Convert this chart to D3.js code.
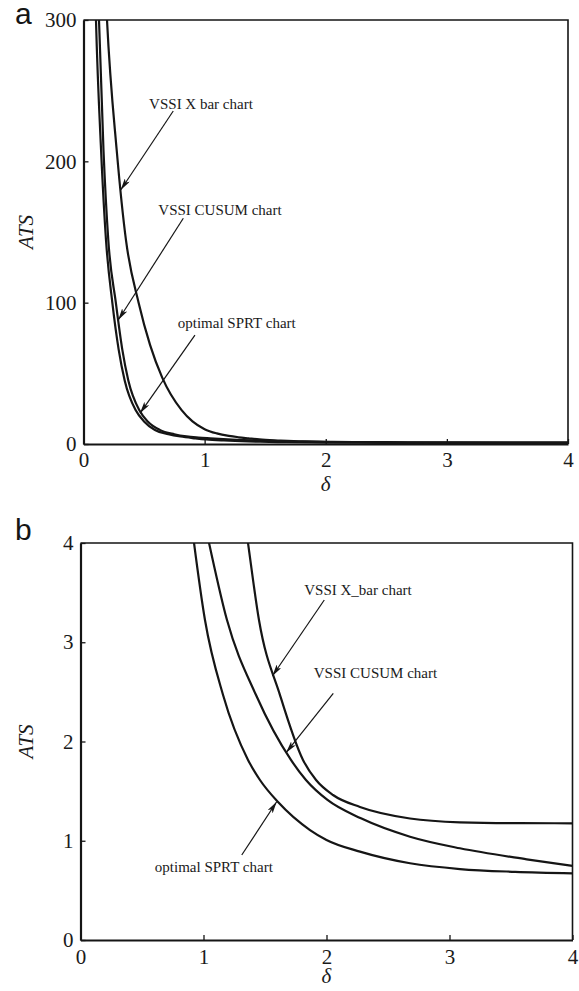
<!DOCTYPE html>
<html>
<head>
<meta charset="utf-8">
<script src="https://cdn.jsdelivr.net/npm/d3@7"></script>
<style>
  html, body { margin: 0; padding: 0; background: #fff; }
  svg { display: block; }
</style>
</head>
<body>
<svg id="chart" width="579" height="991"></svg>
<script>
// ---- data: ATS versus shift size delta for the three charts ----
const xTicks = [0, 1, 2, 3, 4];
const yTicksA = [0, 100, 200, 300];
const yTicksB = [0, 1, 2, 3, 4];

const sprtDelta = [0.09, 0.103, 0.145, 0.186, 0.238, 0.29, 0.34, 0.43, 0.50, 0.59, 0.70, 0.80,
  0.923, 1.012, 1.159, 1.362, 1.459, 1.606, 1.866, 2.0, 2.272, 2.679, 3.085, 3.533, 4.0];
const sprtATS = [345, 300, 208, 144, 100, 67, 45, 24, 16, 9.9, 7.0, 5.3,
  4.0, 3.224, 2.468, 1.814, 1.612, 1.39, 1.108, 1.008, 0.89, 0.773, 0.715, 0.687, 0.672];

const cusumDelta = [0.10, 0.128, 0.165, 0.205, 0.267, 0.32, 0.37, 0.46, 0.53, 0.63, 0.75, 0.85, 0.95,
  1.045, 1.191, 1.427, 1.711, 1.833, 2.008, 2.28, 2.679, 3.085, 3.628, 4.0];
const cusumATS = [345, 300, 208, 144, 100, 67, 45, 24, 16, 10, 6.9, 5.35, 4.55,
  4.0, 3.224, 2.468, 1.814, 1.612, 1.411, 1.226, 1.041, 0.924, 0.813, 0.746];

const xbarDelta = [0.17, 0.194, 0.274, 0.351, 0.455, 0.55, 0.65, 0.81, 0.9, 1.0, 1.1, 1.2, 1.28,
  1.362, 1.451, 1.622, 1.809, 1.915, 2.053, 2.272, 2.679, 3.085, 3.573, 4.0];
const xbarATS = [345, 300, 208, 144, 100, 70, 47, 24, 16, 10.5, 7.5, 5.7, 4.75,
  4.0, 3.224, 2.468, 1.814, 1.612, 1.461, 1.34, 1.224, 1.186, 1.177, 1.176];

// annotation labels (in data units: text centre, arrow tail, arrow head)
const notesA = [
  { text: "VSSI X bar chart",   tx: 0.97,  ty: 237, x1: 0.741, y1: 235.6, x2: 0.307, y2: 179.7 },
  { text: "VSSI CUSUM chart",   tx: 1.127, ty: 162, x1: 0.824, y1: 159.7, x2: 0.287, y2: 87.7 },
  { text: "optimal SPRT chart", tx: 1.265, ty: 82,  x1: 0.92,  y1: 77.1,  x2: 0.466, y2: 21.7 }
];
const notesB = [
  { text: "VSSI X_bar chart",   tx: 2.256, ty: 3.476, x1: 1.982, y1: 3.426, x2: 1.56,  y2: 2.66 },
  { text: "VSSI CUSUM chart",   tx: 2.398, ty: 2.64,  x1: 2.055, y1: 2.486, x2: 1.671, y2: 1.887 },
  { text: "optimal SPRT chart", tx: 1.084, ty: 0.685, x1: 1.311, y1: 0.856, x2: 1.595, y2: 1.393 }
];

const series = [
  { name: "sprt",  delta: sprtDelta,  ats: sprtATS },
  { name: "cusum", delta: cusumDelta, ats: cusumATS },
  { name: "xbar",  delta: xbarDelta,  ats: xbarATS }
];

const serif = "Liberation Serif, Times New Roman, serif";
const ink = "#151515";
const svg = d3.select("#chart");
const defs = svg.append("defs");

defs.append("marker")
  .attr("id", "head")
  .attr("viewBox", "0 0 12 6")
  .attr("refX", 12).attr("refY", 3)
  .attr("markerWidth", 12).attr("markerHeight", 6)
  .attr("markerUnits", "userSpaceOnUse")
  .attr("orient", "auto")
  .append("path")
  .attr("d", "M0,0 L12,3 L0,6 L3,3 Z")
  .attr("fill", ink);

function drawPanel(cfg) {
  const x = d3.scaleLinear().domain([0, 4]).range([cfg.left, cfg.right]);
  const y = d3.scaleLinear().domain([0, cfg.yMax]).range([cfg.bottom, cfg.top]);
  const g = svg.append("g");

  const clipId = "clip-" + cfg.id;
  defs.append("clipPath").attr("id", clipId)
    .append("rect")
    .attr("x", cfg.left).attr("y", cfg.top)
    .attr("width", cfg.right - cfg.left).attr("height", cfg.bottom - cfg.top);

  // frame (top and right edges)
  g.append("path")
    .attr("d", `M${cfg.left},${cfg.top} H${cfg.right} V${cfg.bottom}`)
    .attr("fill", "none").attr("stroke", ink).attr("stroke-width", 1.6);

  // curves
  const line = d3.line()
    .x(d => x(d[0])).y(d => y(d[1]))
    .curve(d3.curveMonotoneX);
  g.append("g").attr("clip-path", `url(#${clipId})`)
    .selectAll("path").data(series).join("path")
    .attr("d", s => line(d3.zip(s.delta, s.ats)))
    .attr("fill", "none").attr("stroke", ink).attr("stroke-width", 2.2)
    .attr("stroke-linejoin", "round");

  // axes with inward ticks
  const xAxis = d3.axisBottom(x).tickValues(xTicks).tickFormat(d3.format("d"))
    .tickSizeInner(-5).tickSizeOuter(0).tickPadding(cfg.xPad);
  const yAxis = d3.axisLeft(y).tickValues(cfg.yTicks).tickFormat(d3.format("d"))
    .tickSizeInner(-5).tickSizeOuter(0).tickPadding(7);

  const gx = g.append("g").attr("transform", `translate(0,${cfg.bottom})`).call(xAxis);
  const gy = g.append("g").attr("transform", `translate(${cfg.left},0)`).call(yAxis);
  [gx, gy].forEach(a => {
    a.attr("font-family", serif).attr("font-size", 21);
    a.select(".domain").attr("stroke", ink).attr("stroke-width", 2.2);
    a.selectAll(".tick line").attr("stroke", ink).attr("stroke-width", 1.3);
    a.selectAll(".tick text").attr("fill", "#1a1a1a")
      .attr("font-family", serif).attr("font-size", 21);
  });

  // axis titles
  g.append("text")
    .attr("x", x(2)).attr("y", cfg.deltaY)
    .attr("text-anchor", "middle")
    .attr("font-family", serif).attr("font-size", 21).attr("font-style", "italic")
    .attr("fill", "#1a1a1a")
    .text("δ");
  g.append("text")
    .attr("transform", `translate(33,${(cfg.top + cfg.bottom) / 2}) rotate(-90)`)
    .attr("text-anchor", "middle")
    .attr("font-family", serif).attr("font-size", 21).attr("font-style", "italic")
    .attr("fill", "#1a1a1a")
    .text("ATS");

  // panel letter
  g.append("text")
    .attr("x", 15).attr("y", cfg.letterY)
    .attr("font-family", "Liberation Sans, Arial, sans-serif").attr("font-size", 30)
    .attr("fill", ink)
    .text(cfg.letter);

  // annotations
  const notes = g.append("g").selectAll("g").data(cfg.notes).join("g");
  notes.append("line")
    .attr("x1", d => x(d.x1)).attr("y1", d => y(d.y1))
    .attr("x2", d => x(d.x2)).attr("y2", d => y(d.y2))
    .attr("stroke", ink).attr("stroke-width", 1.2)
    .attr("marker-end", "url(#head)");
  notes.append("text")
    .attr("x", d => x(d.tx)).attr("y", d => y(d.ty))
    .attr("text-anchor", "middle")
    .attr("font-family", serif).attr("font-size", 15)
    .attr("fill", "#1a1a1a")
    .text(d => d.text);
}

drawPanel({ id: "a", letter: "a", letterY: 24, left: 83.5, right: 568, top: 20, bottom: 444,
  yMax: 300, yTicks: yTicksA, xPad: 8, deltaY: 491, notes: notesA });
drawPanel({ id: "b", letter: "b", letterY: 540, left: 80.5, right: 572.5, top: 543, bottom: 940,
  yMax: 4, yTicks: yTicksB, xPad: 9, deltaY: 983, notes: notesB });
</script>
</body>
</html>
